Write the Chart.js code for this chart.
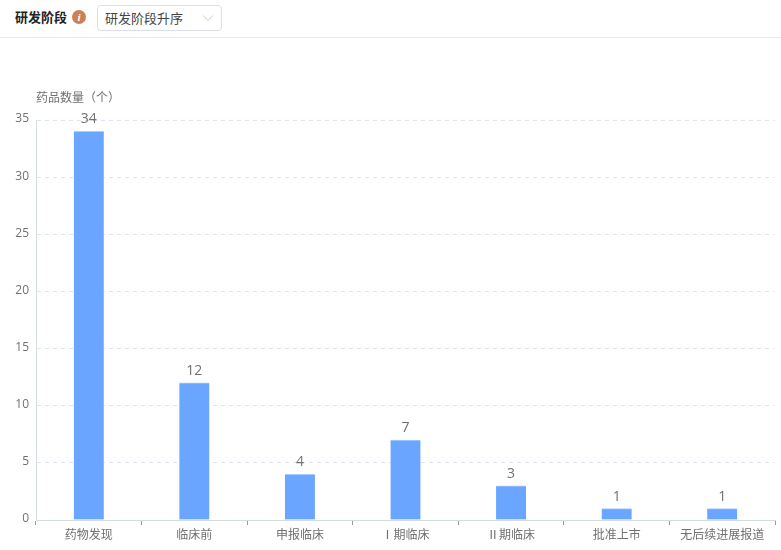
<!DOCTYPE html>
<html lang="zh-CN"><head><meta charset="utf-8">
<script src="https://cdn.jsdelivr.net/npm/chart.js@4"></script>
<style>
html,body{margin:0;padding:0;background:#fff;width:781px;height:550px;overflow:hidden;font-family:"Noto Sans CJK SC","Noto Sans",sans-serif}
#hdr{position:absolute;left:0;top:0;width:781px;height:37px;border-bottom:1px solid #e8e8ec}
#t{position:absolute;left:15px;top:8px;font-size:13px;font-weight:700;color:#222;line-height:18px}
#i{position:absolute;left:72px;top:10px;width:14px;height:14px;border-radius:50%;background:#cd8058;color:#fff;font:italic 700 11px/14px "Liberation Serif",serif;text-align:center}
#s{position:absolute;left:97px;top:5px;width:123px;height:24px;border:1px solid #dcdfe6;border-radius:4px;font-size:13px;line-height:24px;color:#444;text-indent:7px}
#s svg{position:absolute;right:7px;top:8px}
#c{position:absolute;left:0;top:0}
</style></head><body>
<div id="hdr"><div id="t">研发阶段</div><div id="i">i</div>
<div id="s">研发阶段升序<svg width="12" height="8"><path d="M1 1.5L6 6.5L11 1.5" fill="none" stroke="#c8ccd4"/></svg></div></div>
<canvas id="c" width="781" height="550"></canvas>
<script>
const categories=["药物发现","临床前","申报临床","Ⅰ期临床","Ⅱ期临床","批准上市","无后续进展报道"];
const drugCounts=[34,12,4,7,3,1,1];
const yTicks=[0,5,10,15,20,25,30,35];
const axisTitle="药品数量（个）";
const font='"Noto Sans CJK SC","Noto Sans",sans-serif';
const digitFont='"Open Sans","Noto Sans",sans-serif';
const extras={id:'extras',afterDatasetsDraw(ch){
  const c=ch.ctx,m=ch.getDatasetMeta(0);
  c.save();c.font='14px '+digitFont;c.fillStyle='#707070';c.textAlign='center';c.textBaseline='alphabetic';
  m.data.forEach((b,i)=>c.fillText(drugCounts[i],b.x,b.y-8));
  c.font='12px '+font;c.textAlign='left';c.fillStyle='#707070';
  c.fillText(axisTitle,36,ch.chartArea.top-18);
  c.restore();
}};
Chart.defaults.animation=false;
new Chart(document.getElementById('c'),{
  type:'bar',
  data:{labels:categories,datasets:[{data:drugCounts,backgroundColor:'#6aa6ff',borderColor:'#a9cbff',borderWidth:{top:1,left:0,right:0,bottom:0},barThickness:30}]},
  plugins:[extras],
  options:{responsive:false,animation:false,
    layout:{padding:{left:0,right:6,top:120,bottom:0}},
    plugins:{legend:{display:false},tooltip:{enabled:false}},
    scales:{
      x:{offset:true,
        border:{color:'#d3dddd',width:1},
        grid:{offset:true,drawOnChartArea:false,drawTicks:true,tickLength:5,color:'#999'},
        ticks:{font:{size:12,family:'"Noto Sans CJK JP",'+font},color:'#707070',padding:2,maxRotation:0,autoSkip:false},
        afterFit(a){a.height=30}},
      y:{min:0,max:35,
        afterBuildTicks(a){a.ticks=yTicks.map(v=>({value:v}))},
        afterFit(a){a.width=36},
        border:{color:'#d3dddd',width:1,dash:[4,4]},
        grid:{color:'#dfe2f0',drawTicks:false},
        ticks:{font:{size:12,family:digitFont},color:'#707070',padding:7,labelOffset:-1}}
    }
  }
});
</script>
</body></html>
